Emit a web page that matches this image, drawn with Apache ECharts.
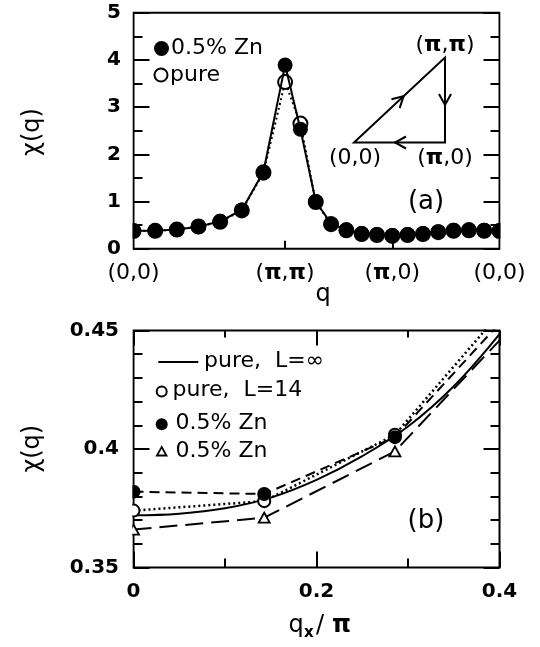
<!DOCTYPE html>
<html><head><meta charset="utf-8">
<script src="https://cdn.jsdelivr.net/npm/echarts@6/dist/echarts.min.js"></script>
<style>html,body{margin:0;padding:0;background:#fff}#c{width:540px;height:647px}</style>
</head><body><div id="c"></div>
<script>
const pathPosA = [0, 0.20203, 0.40406, 0.60609, 0.80812, 1.01015, 1.21218, 1.41421,
  1.55707, 1.69993, 1.84279, 1.98564, 2.12850, 2.27136, 2.41421,
  2.55707, 2.69993, 2.84279, 2.98564, 3.12850, 3.27136, 3.41421];
const chiZnA   = [0.382, 0.381, 0.405, 0.465, 0.58, 0.82, 1.63, 3.89, 2.53, 1.00, 0.53, 0.40, 0.32, 0.30, 0.28,
  0.30, 0.32, 0.36, 0.39, 0.40, 0.39, 0.382];
const chiPureA = [0.374, 0.378, 0.406, 0.47, 0.57, 0.81, 1.61, 3.53, 2.65, 0.99, 0.52, 0.39, 0.31, 0.29, 0.27,
  0.29, 0.31, 0.35, 0.38, 0.39, 0.38, 0.374];
const tickPosA = [0, 1.41421, 2.41421, 3.41421];
const tickLabelsA = ['(0,0)', '(π,π)', '(π,0)', '(0,0)'];

const qxB = [0, 0.142857, 0.285714, 0.428571];
const chiPureL14B = [0.374, 0.378, 0.406, 0.47];
const chiZnB      = [0.382, 0.381, 0.405, 0.465];
const chiZnTriB   = [0.366, 0.371, 0.399, 0.4575];
const qxInfB      = [0, 0.05, 0.1, 0.15, 0.2, 0.25, 0.3, 0.35, 0.4];
const chiPureInfB = [0.372, 0.3727, 0.375, 0.3795, 0.387, 0.397, 0.4095, 0.4265, 0.4485];

const F = 'DejaVu Sans';
const zip = (xs, ys) => xs.map((x, i) => [x, ys[i]]);
const piRich = s => s.replace(/π/g, '{p|π}');

const chart = echarts.init(document.getElementById('c'), null, {renderer: 'canvas'});

const tickStyle = {color: '#000', width: 2};
function yAx(grid, pos, min, max, interval, minorSplit, showLabel, margin, fmt) {
  return {
    type: 'value', gridIndex: grid, position: pos, min, max, interval,
    axisLine: {show: false, onZero: false},
    axisTick: {show: true, inside: true, length: 16, lineStyle: tickStyle},
    minorTick: {show: true, splitNumber: minorSplit, length: 9, lineStyle: tickStyle},
    splitLine: {show: false}, minorSplitLine: {show: false},
    axisLabel: {show: showLabel, inside: false, margin, color: '#000', fontFamily: F, fontWeight: 'bold', fontSize: 20, formatter: fmt}
  };
}
const fmtB = v => String(+v.toFixed(2));

const option = {
  animation: false,
  backgroundColor: '#fff',
  grid: [
    {left: 133.5, top: 12.7, width: 366, height: 236, show: true, borderColor: '#000', borderWidth: 2, backgroundColor: 'transparent'},
    {left: 133.5, top: 330.5, width: 366, height: 237, show: true, borderColor: '#000', borderWidth: 2, backgroundColor: 'transparent'}
  ],
  xAxis: [
    {
      type: 'value', gridIndex: 0, position: 'bottom', min: 0, max: tickPosA[3],
      axisLine: {show: false, onZero: false}, splitLine: {show: false},
      axisTick: {show: true, inside: true, length: 8, lineStyle: tickStyle, customValues: [tickPosA[1], tickPosA[2]]},
      axisLabel: {
        customValues: tickPosA, margin: 14, color: '#000', fontFamily: F, fontSize: 22,
        formatter: v => {
          let k = 0; tickPosA.forEach((p, i) => { if (Math.abs(p - v) < Math.abs(tickPosA[k] - v)) k = i; });
          return piRich(tickLabelsA[k]);
        },
        rich: {p: {fontFamily: F, fontSize: 22, fontWeight: 'bold', color: '#000'}}
      }
    },
    {
      type: 'value', gridIndex: 1, position: 'bottom', min: 0, max: 0.4, interval: 0.2,
      axisLine: {show: false, onZero: false}, splitLine: {show: false}, minorSplitLine: {show: false},
      axisTick: {show: true, inside: true, length: 16, lineStyle: tickStyle},
      minorTick: {show: true, splitNumber: 2, length: 9, lineStyle: tickStyle},
      axisLabel: {margin: 14, color: '#000', fontFamily: F, fontWeight: 'bold', fontSize: 20, formatter: fmtB}
    },
    {
      type: 'value', gridIndex: 1, position: 'top', min: 0, max: 0.4, interval: 0.2,
      axisLine: {show: false, onZero: false}, splitLine: {show: false}, minorSplitLine: {show: false},
      axisTick: {show: true, inside: true, length: 15, lineStyle: tickStyle},
      minorTick: {show: true, splitNumber: 2, length: 7, lineStyle: tickStyle},
      axisLabel: {show: false}
    }
  ],
  yAxis: [
    yAx(0, 'left', 0, 5, 1, 2, true, 12.5, v => String(v)),
    yAx(0, 'right', 0, 5, 1, 2, false, 12, null),
    yAx(1, 'left', 0.35, 0.45, 0.05, 5, true, 14.5, fmtB),
    yAx(1, 'right', 0.35, 0.45, 0.05, 5, false, 12, null)
  ],
  series: [
    {type: 'line', xAxisIndex: 0, yAxisIndex: 0, data: zip(pathPosA, chiPureA), clip: true, z: 2,
      showAllSymbol: true, symbol: 'circle', symbolSize: 14,
      lineStyle: {color: '#000', width: 2, type: [2, 3]},
      itemStyle: {color: '#fff', borderColor: '#000', borderWidth: 2}},
    {type: 'line', xAxisIndex: 0, yAxisIndex: 0, data: zip(pathPosA, chiZnA), clip: true, z: 3,
      showAllSymbol: true, symbol: 'circle', symbolSize: 15,
      lineStyle: {color: '#000', width: 2},
      itemStyle: {color: '#000', borderColor: '#000', borderWidth: 0}},
    {type: 'line', xAxisIndex: 1, yAxisIndex: 2, data: zip(qxInfB, chiPureInfB), clip: true, z: 2,
      smooth: 0.4, showSymbol: false, lineStyle: {color: '#000', width: 2}},
    {type: 'line', xAxisIndex: 1, yAxisIndex: 2, data: zip(qxB, chiZnTriB), clip: true, z: 3,
      showAllSymbol: true, symbol: 'triangle', symbolSize: [11, 10],
      lineStyle: {color: '#000', width: 2, type: [18, 8]},
      itemStyle: {color: '#fff', borderColor: '#000', borderWidth: 1.8}},
    {type: 'line', xAxisIndex: 1, yAxisIndex: 2, data: zip(qxB, chiPureL14B), clip: true, z: 4,
      showAllSymbol: true, symbol: 'circle', symbolSize: 12,
      lineStyle: {color: '#000', width: 2.5, type: [2, 3]},
      itemStyle: {color: '#fff', borderColor: '#000', borderWidth: 2}},
    {type: 'line', xAxisIndex: 1, yAxisIndex: 2, data: zip(qxB, chiZnB), clip: true, z: 5,
      showAllSymbol: true, symbol: 'circle', symbolSize: 14,
      lineStyle: {color: '#000', width: 2, type: [10, 6]},
      itemStyle: {color: '#000', borderWidth: 0}}
  ]
};

const G = [];
const txt = (x, y, text, size, extra) => ({type: 'text', x, y, zlevel: 1, z: 120,
  style: Object.assign({text, fontSize: size, fontFamily: F, fill: '#000', align: 'center', verticalAlign: 'middle'}, extra || {})});
const richPi = size => ({p: {fontSize: size, fontFamily: F, fontWeight: 'bold', fill: '#000'}});
// white masks: symbols sitting on the frame are cut at the frame edge
const maskStyle = {fill: '#fff', stroke: null};
G.push({type: 'rect', zlevel: 1, z: 100, shape: {x: 122, y: 2, width: 10.4, height: 256}, style: maskStyle});
G.push({type: 'rect', zlevel: 1, z: 100, shape: {x: 500.6, y: 2, width: 12, height: 256}, style: maskStyle});
G.push({type: 'rect', zlevel: 1, z: 100, shape: {x: 122, y: 322, width: 10.3, height: 254}, style: maskStyle});
const yt1 = txt(33, 132, 'χ(q)', 24); yt1.rotation = Math.PI / 2; G.push(yt1);
const yt2 = txt(33, 448.7, 'χ(q)', 24); yt2.rotation = Math.PI / 2; G.push(yt2);
G.push(txt(323, 295, 'q', 24));
G.push(txt(288.5, 625.5, 'q', 24, {align: 'left'}));
G.push(txt(304, 633.5, 'x', 15, {align: 'left', fontWeight: 'bold'}));
G.push(txt(316, 625.5, '/', 24, {align: 'left'}));
G.push(txt(332, 626, 'π', 24, {align: 'left', fontWeight: 'bold'}));
G.push(txt(426, 202.5, '(a)', 26));
G.push(txt(426, 521, '(b)', 26));
G.push({type: 'circle', zlevel: 1, z: 120, shape: {cx: 161.5, cy: 48.5, r: 7.5}, style: {fill: '#000'}});
G.push(txt(171, 48.5, '0.5% Zn', 22, {align: 'left'}));
G.push({type: 'circle', zlevel: 1, z: 120, shape: {cx: 161, cy: 75, r: 6.5}, style: {fill: '#fff', stroke: '#000', lineWidth: 2}});
G.push(txt(170, 75, 'pure', 22, {align: 'left'}));
G.push({type: 'line', zlevel: 1, z: 120, shape: {x1: 158.3, y1: 362, x2: 198.3, y2: 362}, style: {stroke: '#000', lineWidth: 2}});
G.push(txt(204, 361.5, 'pure,  L=∞', 22, {align: 'left'}));
G.push({type: 'circle', zlevel: 1, z: 120, shape: {cx: 161.7, cy: 391.5, r: 5}, style: {fill: '#fff', stroke: '#000', lineWidth: 2}});
G.push(txt(172.5, 390.5, 'pure,  L=14', 22, {align: 'left'}));
G.push({type: 'circle', zlevel: 1, z: 120, shape: {cx: 161.7, cy: 424.3, r: 6}, style: {fill: '#000'}});
G.push(txt(175.5, 423.5, '0.5% Zn', 22, {align: 'left'}));
G.push({type: 'polygon', zlevel: 1, z: 120, shape: {points: [[161.7, 447], [166.5, 455.5], [156.9, 455.5]]}, style: {fill: '#fff', stroke: '#000', lineWidth: 1.8}});
G.push(txt(175.5, 451.5, '0.5% Zn', 22, {align: 'left'}));
const V0 = [354, 142.5], VPP = [445, 57.5], VP0 = [445, 142.5];
G.push({type: 'polygon', zlevel: 1, z: 120, shape: {points: [V0, VPP, VP0]}, style: {fill: 'none', stroke: '#000', lineWidth: 2}});
function chev(tip, d) {
  const n = Math.hypot(d[0], d[1]), dx = d[0] / n, dy = d[1] / n, L = 11, W = 6;
  return {type: 'polyline', zlevel: 1, z: 121, shape: {points: [
    [tip[0] - L * dx - W * dy, tip[1] - L * dy + W * dx], tip,
    [tip[0] - L * dx + W * dy, tip[1] - L * dy - W * dx]]},
    style: {fill: 'none', stroke: '#000', lineWidth: 2}};
}
const t = 0.545;
G.push(chev([V0[0] + t * (VPP[0] - V0[0]), V0[1] + t * (VPP[1] - V0[1])], [VPP[0] - V0[0], VPP[1] - V0[1]]));
G.push(chev([445, 105], [0, 1]));
G.push(chev([395, 142.5], [-1, 0]));
G.push(txt(445, 45, piRich('(π,π)'), 22, {rich: richPi(22)}));
G.push(txt(355, 158.5, '(0,0)', 22));
G.push(txt(445, 158.5, piRich('(π,0)'), 22, {rich: richPi(22)}));

option.graphic = {elements: G};
chart.setOption(option);
</script>
</body></html>
